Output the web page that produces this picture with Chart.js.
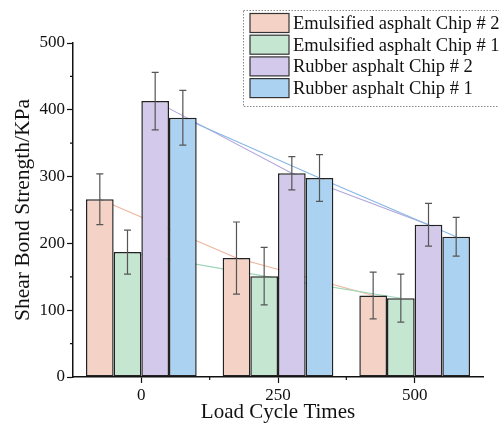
<!DOCTYPE html>
<html>
<head>
<meta charset="utf-8">
<script src="https://cdn.jsdelivr.net/npm/chart.js@4.4.1/dist/chart.umd.min.js"></script>
<style>
  html, body { margin: 0; padding: 0; background: #fff; }
  #wrap { width: 499px; height: 428px; }
</style>
</head>
<body>
<div id="wrap"><canvas id="shearChart" width="499" height="428"></canvas></div>
<script>
// load cycles on the x axis
const cycles = ['0', '250', '500'];

// shear bond strength (KPa) and standard deviation per series
const emuChip2 = [266, 178, 122];
const emuChip2Err = [38, 54, 35];
const emuChip1 = [187, 151, 118];
const emuChip1Err = [33, 43, 36];
const rubChip2 = [413, 305, 228];
const rubChip2Err = [43, 25, 32];
const rubChip1 = [388, 298, 210];
const rubChip1Err = [41, 35, 29];

const yTicks = [0, 100, 200, 300, 400, 500];

const serif = "'Liberation Serif', 'Times New Roman', serif";

function makeSet(label, data, err, fill, trend) {
    return {
        label: label,
        data: data,
        err: err,
        trend: trend,
        backgroundColor: fill,
        borderColor: '#222',
        borderWidth: 1.5,
        borderSkipped: false,
        barPercentage: 1.0,
        categoryPercentage: 0.81
    };
}

// trend lines drawn behind the bars, from bar top to bar top
const trendLines = {
    id: 'trendLines',
    beforeDatasetsDraw(chart) {
        const ctx = chart.ctx;
        chart.data.datasets.forEach((ds, i) => {
            const pts = chart.getDatasetMeta(i).data;
            ctx.save();
            ctx.strokeStyle = ds.trend;
            ctx.lineWidth = 1.1;
            ctx.beginPath();
            pts.forEach((p, j) => {
                if (j === 0) ctx.moveTo(p.x, p.y); else ctx.lineTo(p.x, p.y);
            });
            ctx.stroke();
            ctx.restore();
        });
    }
};

// error bars + minor ticks + legend box
const extras = {
    id: 'extras',
    afterDatasetsDraw(chart) {
        const ctx = chart.ctx;
        const y = chart.scales.y;
        chart.data.datasets.forEach((ds, i) => {
            const pts = chart.getDatasetMeta(i).data;
            pts.forEach((p, j) => {
                const top = y.getPixelForValue(ds.data[j] + ds.err[j]);
                const bot = y.getPixelForValue(ds.data[j] - ds.err[j]);
                ctx.save();
                ctx.strokeStyle = '#555';
                ctx.lineWidth = 1.2;
                ctx.beginPath();
                ctx.moveTo(p.x, top); ctx.lineTo(p.x, bot);
                ctx.moveTo(p.x - 3.5, top); ctx.lineTo(p.x + 3.5, top);
                ctx.moveTo(p.x - 3.5, bot); ctx.lineTo(p.x + 3.5, bot);
                ctx.stroke();
                ctx.restore();
            });
        });
    },
    afterDraw(chart) {
        const ctx = chart.ctx;
        const y = chart.scales.y;
        const x = chart.scales.x;
        const area = chart.chartArea;
        ctx.save();
        ctx.strokeStyle = '#111';
        ctx.lineWidth = 1.2;
        ctx.beginPath();
        // minor y ticks halfway between labels
        for (let v = 50; v < 500; v += 100) {
            const py = y.getPixelForValue(v);
            ctx.moveTo(area.left - 3, py); ctx.lineTo(area.left, py);
        }
        // minor x ticks between categories
        for (let k = 0; k < cycles.length - 1; k++) {
            const px = (x.getPixelForValue(k) + x.getPixelForValue(k + 1)) / 2;
            ctx.moveTo(px, area.bottom); ctx.lineTo(px, area.bottom + 3);
        }
        ctx.stroke();

        // legend
        const lx = 243, ly = 10, lw = 262, lh = 96;
        ctx.setLineDash([1.5, 1.5]);
        ctx.strokeStyle = '#888';
        ctx.lineWidth = 1;
        ctx.strokeRect(lx + 0.5, ly + 0.5, lw, lh);
        ctx.setLineDash([]);
        ctx.font = '18.5px ' + serif;
        ctx.textBaseline = 'middle';
        chart.data.datasets.forEach((ds, i) => {
            const cy = 23 + i * 21.7;
            ctx.fillStyle = ds.backgroundColor;
            ctx.fillRect(250, cy - 9.5, 39, 19);
            ctx.strokeStyle = '#333';
            ctx.lineWidth = 1.2;
            ctx.strokeRect(250, cy - 9.5, 39, 19);
            ctx.fillStyle = '#111';
            ctx.fillText(ds.label, 293, cy + 1);
        });
        ctx.restore();
    }
};

const ctx = document.getElementById('shearChart').getContext('2d');
new Chart(ctx, {
    type: 'bar',
    data: {
        labels: cycles,
        datasets: [
            makeSet('Emulsified asphalt Chip # 2', emuChip2, emuChip2Err, '#f4d3c6', '#eeb39c'),
            makeSet('Emulsified asphalt Chip # 1', emuChip1, emuChip1Err, '#c5e6d1', '#9fd6b8'),
            makeSet('Rubber asphalt Chip # 2', rubChip2, rubChip2Err, '#d3c9ea', '#b3a6da'),
            makeSet('Rubber asphalt Chip # 1', rubChip1, rubChip1Err, '#abd2f0', '#86b7e4')
        ]
    },
    options: {
        responsive: false,
        animation: false,
        layout: { padding: { top: 43, right: 16, left: 0, bottom: 0 } },
        plugins: {
            legend: { display: false },
            tooltip: { enabled: false }
        },
        scales: {
            x: {
                offset: true,
                grid: { offset: false, drawOnChartArea: false, drawTicks: true, tickLength: 6, color: '#111', tickWidth: 1.2 },
                border: { display: true, color: '#111', width: 1.5 },
                ticks: { color: '#111', font: { family: serif, size: 17 }, padding: 2, maxRotation: 0 },
                title: { display: true, text: 'Load Cycle Times', color: '#111', font: { family: serif, size: 21 }, padding: { top: 0, bottom: 3 } },
                afterFit(scale) { scale.height = 51; }
            },
            y: {
                min: 0,
                max: 500,
                afterBuildTicks(scale) { scale.ticks = yTicks.map(v => ({ value: v })); },
                grid: { drawOnChartArea: false, drawTicks: true, tickLength: 6, color: '#111', tickWidth: 1.2 },
                border: { display: true, color: '#111', width: 1.5 },
                ticks: { color: '#111', font: { family: serif, size: 17 }, padding: 2 },
                title: { display: true, text: 'Shear Bond Strength/KPa', color: '#111', font: { family: serif, size: 21.5 }, padding: { top: 10, bottom: 0 } },
                afterFit(scale) { scale.width = 73; }
            }
        }
    },
    plugins: [trendLines, extras]
});
</script>
</body>
</html>
